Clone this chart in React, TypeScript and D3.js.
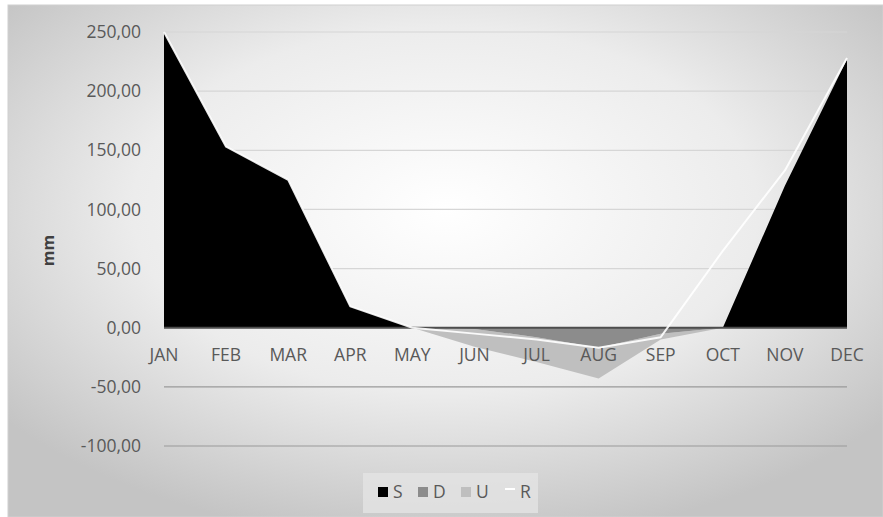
import React from "react";
import * as d3 from "d3";

// Monthly water balance (mm)
const months = ["JAN", "FEB", "MAR", "APR", "MAY", "JUN", "JUL", "AUG", "SEP", "OCT", "NOV", "DEC"];
const surplusS = [250, 153, 125, 18, 0, 0, 0, 0, 0, 0, 120, 227];
const deficitD = [0, 0, 0, 0, 0, -1, -8, -17, -5, 0, 0, 0];
const usageU = [0, 0, 0, 0, 0, -15, -21, -26, -5, 0, 0, 0];
const rechargeR = [250, 153, 125, 18, 0, -5, -10, -17, -8, 65, 133, 228];
const yTicks = [-100, -50, 0, 50, 100, 150, 200, 250];

const legendItems = [
  { key: "S", color: "#000000", kind: "rect" },
  { key: "D", color: "#8c8c8c", kind: "rect" },
  { key: "U", color: "#bfbfbf", kind: "rect" },
  { key: "R", color: "#ffffff", kind: "line" },
];

const W = 883;
const H = 517;
const FONT = "'Open Sans', 'Segoe UI', sans-serif";
const FS = 17.5;

export default function App() {
  const x = d3.scalePoint<string>().domain(months).range([164, 847]);
  const y = d3.scaleLinear().domain([-100, 250]).range([446, 32]);

  const fmt = (v: number) => v.toFixed(2).replace(".", ",");

  const idx = months.map((_, i) => i);
  const areaS = d3
    .area<number>()
    .x((i) => x(months[i])!)
    .y0(() => y(0))
    .y1((i) => y(surplusS[i]))(idx)!;
  const areaD = d3
    .area<number>()
    .x((i) => x(months[i])!)
    .y0(() => y(0))
    .y1((i) => y(deficitD[i]))(idx)!;
  const areaU = d3
    .area<number>()
    .x((i) => x(months[i])!)
    .y0((i) => y(deficitD[i]))
    .y1((i) => y(deficitD[i] + usageU[i]))(idx)!;
  const lineR = d3
    .line<number>()
    .x((i) => x(months[i])!)
    .y((i) => y(rechargeR[i]))(idx)!;

  const x0 = x(months[0])!;
  const x1 = x(months[months.length - 1])!;

  const legendX = 378;
  const legendY = 492;
  const legendOffsets = [0, 40, 83, 127];

  return (
    <svg
      width={W}
      height={H}
      style={{ position: "absolute", left: 0, top: 0, display: "block" }}
      fontFamily={FONT}
    >
      <defs>
        <radialGradient id="bg" cx="50%" cy="40%" r="65%">
          <stop offset="0%" stopColor="#ffffff" />
          <stop offset="55%" stopColor="#ececec" />
          <stop offset="100%" stopColor="#c4c4c4" />
        </radialGradient>
      </defs>
      <rect x={0} y={0} width={W} height={H} fill="#ffffff" />
      <rect x={8} y={5} width={W - 8} height={H - 5} fill="url(#bg)" stroke="#d0d0d0" strokeWidth={1} />

      {/* gridlines */}
      {yTicks
        .filter((t) => t !== 0)
        .map((t) => (
          <line
            key={t}
            x1={x0}
            x2={x1}
            y1={y(t)}
            y2={y(t)}
            stroke={t < 0 ? "#9a9a9a" : "#d6d6d6"}
            strokeWidth={1.2}
          />
        ))}

      {/* stacked negative areas */}
      <path d={areaU} fill="#bfbfbf" />
      <path d={areaD} fill="#8c8c8c" />
      <path d={areaS} fill="#000000" />

      {/* zero axis */}
      <line x1={x0} x2={x1} y1={y(0)} y2={y(0)} stroke="#4d4d4d" strokeWidth={2} />

      {/* R line */}
      <path d={lineR} fill="none" stroke="#ffffff" strokeWidth={2} strokeOpacity={0.9} strokeLinejoin="round" />

      {/* y tick labels */}
      {yTicks.map((t) => (
        <text
          key={t}
          x={141}
          y={y(t)}
          dy="0.35em"
          textAnchor="end"
          fontSize={FS}
          fill="#595959"
        >
          {fmt(t)}
        </text>
      ))}

      {/* x category labels */}
      {months.map((m) => (
        <text key={m} x={x(m)!} y={355} dy="0.35em" textAnchor="middle" fontSize={FS} fill="#595959">
          {m}
        </text>
      ))}

      {/* axis title */}
      <text
        transform={`translate(48,${y(100) + 41}) rotate(-90)`}
        textAnchor="middle"
        dy="0.35em"
        fontSize={16}
        fontWeight="bold"
        fill="#404040"
      >
        mm
      </text>

      {/* legend */}
      <rect x={363} y={473} width={175} height={40} fill="#e4e4e4" opacity={0.8} />
      {legendItems.map((it, i) => {
        const lx = legendX + legendOffsets[i];
        return (
          <g key={it.key}>
            {it.kind === "rect" ? (
              <rect x={lx} y={legendY - 5} width={10} height={10} fill={it.color} />
            ) : (
              <line x1={lx} x2={lx + 10} y1={legendY - 3} y2={legendY - 3} stroke={it.color} strokeWidth={2} />
            )}
            <text x={lx + 15} y={legendY} dy="0.35em" fontSize={FS} fill="#595959">
              {it.key}
            </text>
          </g>
        );
      })}
    </svg>
  );
}
